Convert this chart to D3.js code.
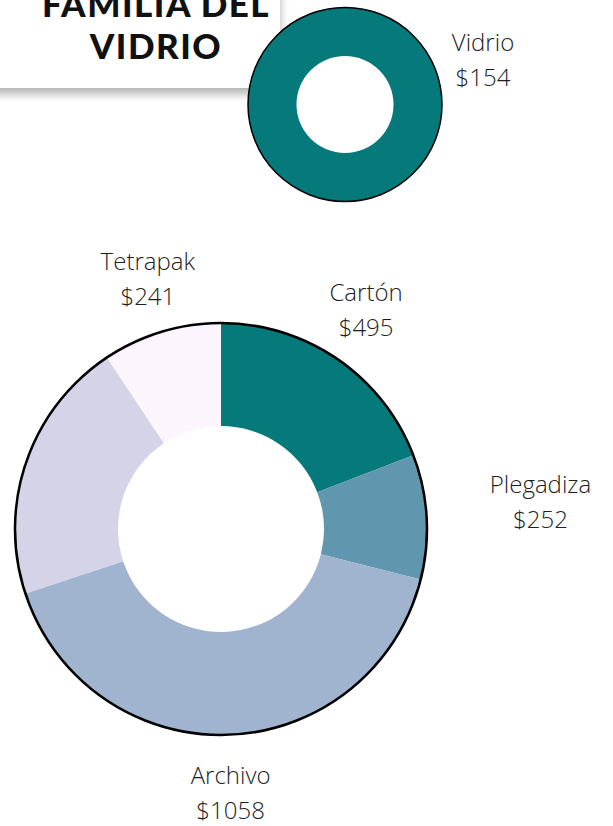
<!DOCTYPE html>
<html>
<head>
<meta charset="utf-8">
<script src="https://cdn.jsdelivr.net/npm/d3@7"></script>
<style>
  body { margin: 0; background: #fff; }
  svg { display: block; }
  .lbl { font-family: 'Open Sans', sans-serif; font-weight: 300; font-size: 24px; fill: #1e1e1e; }
  .ttl { font-family: Lato, sans-serif; font-weight: 900; font-size: 35px; letter-spacing: 1.5px; fill: #111; }
</style>
</head>
<body>
<svg id="chart" width="613" height="826"></svg>
<script>
// data
const titleLines = ['FAMILIA DEL', 'VIDRIO'];

const glassName = 'Vidrio';
const glassValue = 154;

const paperNames = ['Cartón', 'Plegadiza', 'Archivo', '', 'Tetrapak'];
const paperValues = [495, 252, 1058, 535, 241];
const paperColors = ['#06797b', '#6096ae', '#a0b3cf', '#d5d3e7', '#fdf5fd'];

// layout: distance of each label from the donut centre
const labelDist = { 'Cartón': 256, Plegadiza: 320, Archivo: 272, Tetrapak: 253 };

const svg = d3.select('#chart');

// title card with shadow
const defs = svg.append('defs');
const f = defs.append('filter').attr('id', 'shadow')
  .attr('x', '-20%').attr('y', '-20%').attr('width', '140%').attr('height', '160%');
f.append('feDropShadow').attr('dx', 0).attr('dy', 6).attr('stdDeviation', 5)
  .attr('flood-color', '#000').attr('flood-opacity', 0.3);

svg.append('rect')
  .attr('x', -40).attr('y', -80).attr('width', 320).attr('height', 168)
  .attr('fill', '#fff').attr('filter', 'url(#shadow)');

svg.selectAll('.ttl')
  .data(titleLines)
  .join('text')
  .attr('class', 'ttl')
  .attr('x', 156)
  .attr('y', (d, i) => 17 + i * 42)
  .attr('text-anchor', 'middle')
  .text((d) => d);

const pie = d3.pie().sort(null).value((d) => d);

// small donut - Vidrio
const small = svg.append('g').attr('transform', 'translate(345,104.5)');
const smallArc = d3.arc().innerRadius(48.5).outerRadius(97);
small.selectAll('path')
  .data(pie([glassValue]))
  .join('path')
  .attr('d', smallArc)
  .attr('fill', '#06797b');
small.append('circle').attr('r', 97).attr('fill', 'none')
  .attr('stroke', '#000').attr('stroke-width', 1.5);

const gl = small.append('text').attr('class', 'lbl').attr('text-anchor', 'middle')
  .attr('transform', 'translate(138,-37)');
gl.append('tspan').attr('x', 0).attr('y', -17).text(glassName);
gl.append('tspan').attr('x', 0).attr('y', 18).text('$' + glassValue);

// big donut
const R = 206;
const big = svg.append('g').attr('transform', 'translate(221,529)');
const bigArc = d3.arc().innerRadius(R / 2).outerRadius(R);
const arcs = pie(paperValues);

big.selectAll('path')
  .data(arcs)
  .join('path')
  .attr('d', bigArc)
  .attr('fill', (d, i) => paperColors[i]);

big.append('circle').attr('r', R).attr('fill', 'none')
  .attr('stroke', '#000').attr('stroke-width', 2.5);

const labels = big.selectAll('.lbl')
  .data(arcs.filter((d, i) => paperNames[i]))
  .join('text')
  .attr('class', 'lbl')
  .attr('text-anchor', 'middle')
  .attr('transform', (d) => {
    const a = (d.startAngle + d.endAngle) / 2;
    const r = labelDist[paperNames[d.index]];
    return `translate(${r * Math.sin(a)},${-r * Math.cos(a)})`;
  });
labels.append('tspan').attr('x', 0).attr('y', -17).text((d) => paperNames[d.index]);
labels.append('tspan').attr('x', 0).attr('y', 18).text((d) => '$' + d.value);
</script>
</body>
</html>
